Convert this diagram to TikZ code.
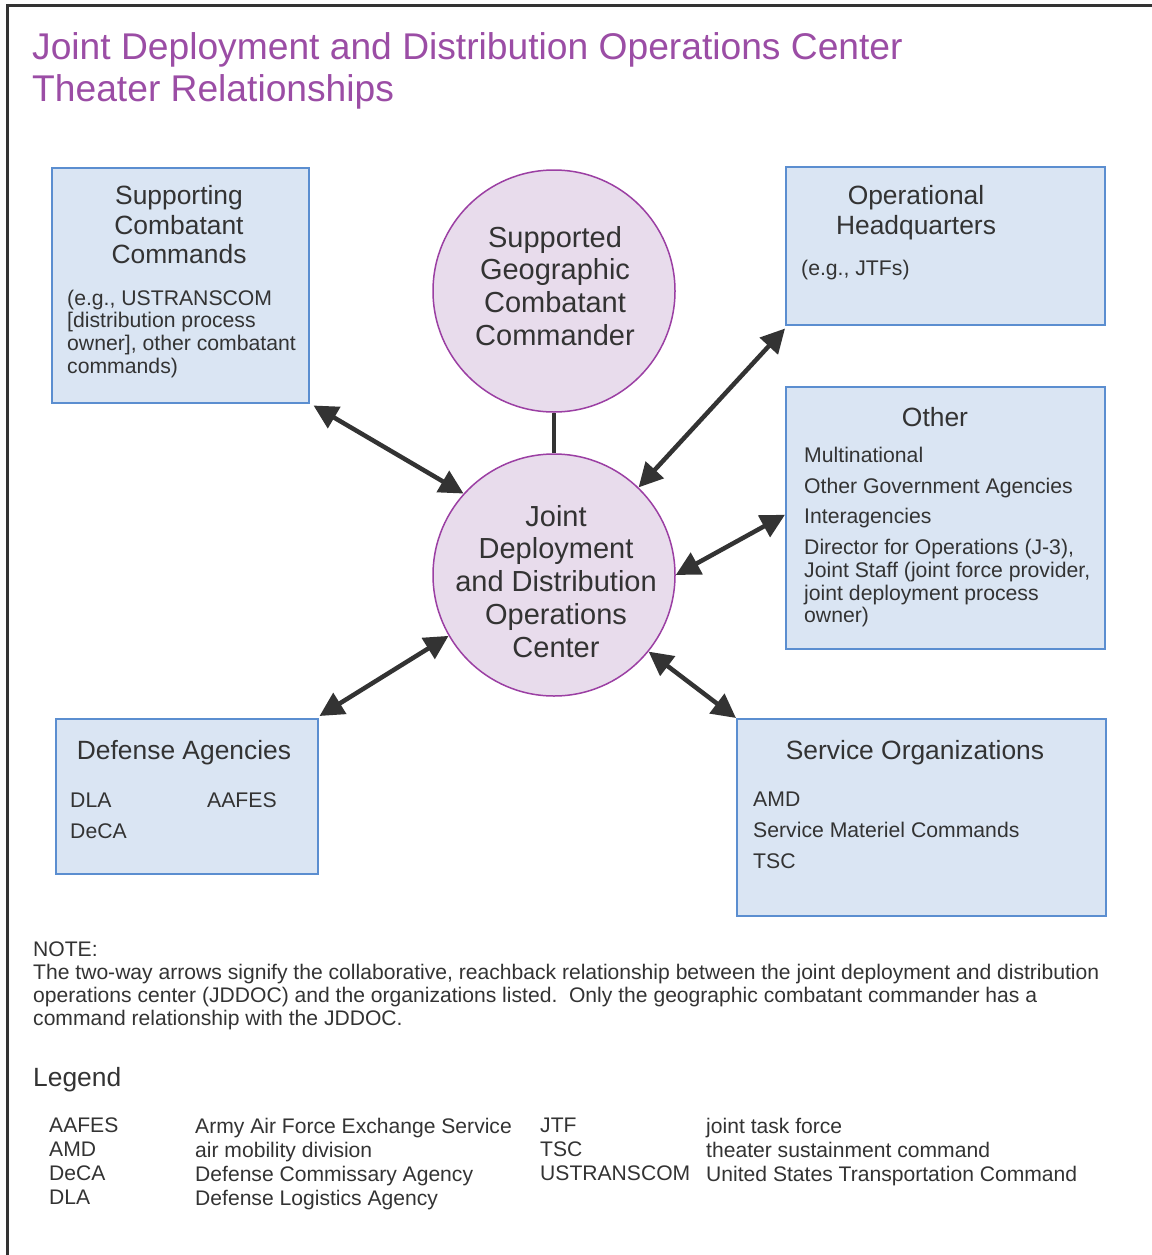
\documentclass[tikz,border=0pt]{standalone}
\usepackage{fontspec}
\setmainfont{Liberation Sans}
\usetikzlibrary{arrows.meta,calc}
\definecolor{boxfill}{HTML}{DAE5F3}
\definecolor{boxline}{HTML}{5B8ED0}
\definecolor{circfill}{HTML}{E8DCEC}
\definecolor{circline}{HTML}{9B3FA3}
\definecolor{titlecol}{HTML}{9B4DA5}
\definecolor{textgray}{HTML}{333333}
\definecolor{arrowgray}{HTML}{333333}
\tikzset{
  box/.style={draw=boxline, fill=boxfill, line width=1.5pt, inner sep=0pt, anchor=north west},
  circ/.style={circle, draw=circline, fill=circfill, line width=1.5pt, minimum size=242pt, inner sep=0pt},
  twoway/.style={line width=4.5pt, draw=arrowgray, {Triangle[length=24pt,width=24pt]}-{Triangle[length=24pt,width=24pt]}},
  plain/.style={line width=4pt, draw=arrowgray},
  txt/.style={text=textgray, inner sep=0pt, anchor=north west, align=left},
  ctxt/.style={text=textgray, inner sep=0pt, anchor=north, align=center},
  big/.style={font=\fontsize{26.4}{29.7}\selectfont},
  small/.style={font=\fontsize{21.2}{22.7}\selectfont},
  circf/.style={font=\fontsize{29}{32.7}\selectfont},
}
\begin{document}
\begin{tikzpicture}[x=1pt,y=-1pt]
\useasboundingbox (0,0) rectangle (1151,1255);
% frame
\draw[line width=3pt, draw=textgray] (7,1262) |- (1158,6);
% title
\node[txt, text=titlecol, font=\fontsize{37.2}{42.5}\selectfont] (title) at (32,32)
  {Joint Deployment and Distribution Operations Center\\Theater Relationships};
% boxes
\node[box, minimum width=257pt, minimum height=235pt] (sup) at (51,167) {};
\node[box, minimum width=319pt, minimum height=158pt] (ophq) at (785,166) {};
\node[box, minimum width=319pt, minimum height=262pt] (other) at (785,386) {};
\node[box, minimum width=262pt, minimum height=155pt] (def) at (55,718) {};
\node[box, minimum width=369pt, minimum height=197pt] (serv) at (736,718) {};
% circles
\node[circ] (sgcc) at (554,291) {};
\node[circ] (jd) at (554,575) {};
% box texts
\node[ctxt, big] (sup-h) at (179,185) {Supporting\\Combatant\\Commands};
\node[txt, small] (sup-b) at (67,289.5) {(e.g., USTRANSCOM\\{[}distribution process\\owner], other combatant\\commands)};
\node[ctxt, big] (ophq-h) at (916,185.5) {Operational\\Headquarters};
\node[txt, small] (ophq-b) at (801,259.5) {(e.g., JTFs)};
\node[ctxt, big] (other-h) at (935,406.7) {Other};
\node[txt, small] (other-1) at (804,446.7) {Multinational};
\node[txt, small] (other-2) at (804,477.7) {Other Government Agencies};
\node[txt, small] (other-3) at (804,508.3) {Interagencies};
\node[txt, small] (other-4) at (804,539.3) {Director for Operations (J-3),\\Joint Staff (joint force provider,\\joint deployment process\\owner)};
\node[ctxt, big] (def-h) at (184,740.5) {Defense Agencies};
\node[txt, small] (def-1) at (70,792.5) {DLA};
\node[txt, small] (def-2) at (207,792.5) {AAFES};
\node[txt, small] (def-3) at (70,823.5) {DeCA};
\node[ctxt, big] (serv-h) at (915,740.5) {Service Organizations};
\node[txt, font=\fontsize{21.2}{31}\selectfont] (serv-b) at (753,791.5) {AMD\\Service Materiel Commands\\TSC};
% circle texts
\node[ctxt, circf] (sgcc-t) at (555,226) {Supported\\Geographic\\Combatant\\Commander};
\node[ctxt, circf] (jd-t) at (556,505) {Joint\\Deployment\\and Distribution\\Operations\\Center};
% connectors
\draw[plain] (sgcc.south) -- (jd.north);
\draw[twoway] ($(sup.south east)+(4,2)$) -- (jd.138);
\draw[twoway] ($(ophq.south west)+(0,3)$) -- (jd.46);
\draw[twoway] ($(other.west)+(0,-3)$) -- (jd.east);
\draw[twoway] ($(def.north east)+(1,-2)$) -- (jd.210);
\draw[twoway] (serv.north west) -- (jd.-39);
% note
\node[txt, font=\fontsize{21.1}{23}\selectfont] (note) at (33,941.5)
  {NOTE:\\The two-way arrows signify the collaborative, reachback relationship between the joint deployment and distribution\\operations center (JDDOC) and the organizations listed.\ \ Only the geographic combatant commander has a\\command relationship with the JDDOC.};
% legend
\node[txt, big] (leg) at (33,1067.5) {Legend};
\node[txt, font=\fontsize{21.1}{24}\selectfont] (leg-1) at (49,1117.5) {AAFES\\AMD\\DeCA\\DLA};
\node[txt, font=\fontsize{21.1}{24}\selectfont] (leg-2) at (195,1117.5) {Army Air Force Exchange Service\\air mobility division\\Defense Commissary Agency\\Defense Logistics Agency};
\node[txt, font=\fontsize{21.1}{24}\selectfont] (leg-3) at (540,1117.5) {JTF\\TSC\\USTRANSCOM};
\node[txt, font=\fontsize{21.1}{24}\selectfont] (leg-4) at (706,1117.5) {joint task force\\theater sustainment command\\United States Transportation Command};
\end{tikzpicture}
\end{document}
